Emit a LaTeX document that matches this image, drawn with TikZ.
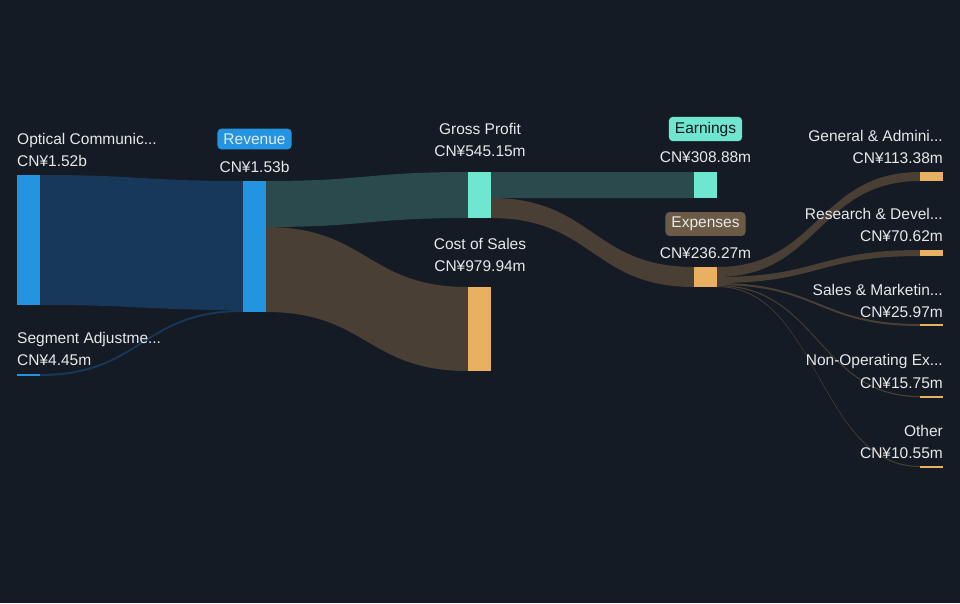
\documentclass[tikz,border=0pt]{standalone}
\usepackage{fontspec}
\setmainfont{Liberation Sans}
\begin{document}
\definecolor{bg}{HTML}{151B24}
\definecolor{blu}{HTML}{2394E0}
\definecolor{tea}{HTML}{6EE6D0}
\definecolor{ora}{HTML}{E8B060}
\definecolor{fblu}{HTML}{18385A}
\definecolor{ftea}{HTML}{2A4A4E}
\definecolor{fbro}{HTML}{4A3F35}
\definecolor{txt}{HTML}{E6E8EA}
\definecolor{bbro}{HTML}{6B5A45}
\newcommand\flow[7]{\fill[#1] (#2,#3) .. controls ({(#2+#5)/2},#3) and ({(#2+#5)/2},#6) .. (#5,#6) -- (#5,#7) .. controls ({(#2+#5)/2},#7) and ({(#2+#5)/2},#4) .. (#2,#4) -- cycle;}
\begin{tikzpicture}[x=1pt,y=-1pt,
  lab/.style={text=txt,font=\fontsize{15.5}{17}\selectfont,inner sep=0pt},
  tag/.style={text=txt,font=\fontsize{15.5}{17}\selectfont,rounded corners=4pt,inner xsep=6pt,inner ysep=5pt}]
\fill[bg] (0,0) rectangle (960,603);
\useasboundingbox (0,0) rectangle (960,603);
% flows
\flow{fblu}{40}{175}{305}{243}{181}{310}
\flow{fblu}{40}{374}{376}{243}{310}{312}
\flow{ftea}{266}{181}{227}{468}{172}{218}
\flow{fbro}{266}{227}{312}{468}{287}{371}
\flow{ftea}{491}{172}{198}{694}{172}{198}
\flow{fbro}{491}{198}{218}{694}{267}{287}
\flow{fbro}{717}{267}{277}{920}{172}{181}
\flow{fbro}{717}{277}{283}{920}{250}{256}
\flow{fbro}{717}{283}{285}{920}{324}{326}
\flow{fbro}{717}{285}{286.2}{920}{396}{397.2}
\flow{fbro}{717}{286.2}{287}{920}{466}{467}
% bars
\fill[blu] (17,175) rectangle (40,305) node[pos=.5] (opt) {};
\fill[blu] (17,374) rectangle (40,376) node[pos=.5] (seg) {};
\fill[blu] (243,181) rectangle (266,312) node[pos=.5] (rev) {};
\fill[tea] (468,172) rectangle (491,218) node[pos=.5] (gp) {};
\fill[ora] (468,287) rectangle (491,371) node[pos=.5] (cos) {};
\fill[tea] (694,172) rectangle (717,198) node[pos=.5] (ear) {};
\fill[ora] (694,267) rectangle (717,287) node[pos=.5] (exp) {};
\fill[ora] (920,172) rectangle (943,181);
\fill[ora] (920,250) rectangle (943,256);
\fill[ora] (920,324) rectangle (943,326);
\fill[ora] (920,396) rectangle (943,398);
\fill[ora] (920,466) rectangle (943,468);
% labels
\node[lab,anchor=west] (l1) at (17,140) {Optical Communic...};
\node[lab,anchor=west] (v1) at (17,161) {CN¥1.52b};
\node[lab,anchor=west] (l2) at (17,339) {Segment Adjustme...};
\node[lab,anchor=west] (v2) at (17,360) {CN¥4.45m};
\node[tag,fill=blu] (l3) at (254.5,139) {Revenue};
\node[lab] (v3) at (254.5,167) {CN¥1.53b};
\node[lab] (l4) at (480,129) {Gross Profit};
\node[lab] (v4) at (480,151) {CN¥545.15m};
\node[lab] (l5) at (480,244) {Cost of Sales};
\node[lab] (v5) at (480,266) {CN¥979.94m};
\node[tag,fill=tea,text=bg!80!black] (l6) at (705.5,129) {Earnings};
\node[lab] (v6) at (705.5,157) {CN¥308.88m};
\node[tag,fill=bbro] (l7) at (705.5,224) {Expenses};
\node[lab] (v7) at (705.5,253) {CN¥236.27m};
\node[lab,anchor=east] (l8) at (943,136) {General \& Admini...};
\node[lab,anchor=east] (v8) at (943,158) {CN¥113.38m};
\node[lab,anchor=east] (l9) at (943,214) {Research \& Devel...};
\node[lab,anchor=east] (v9) at (943,236) {CN¥70.62m};
\node[lab,anchor=east] (l10) at (943,290) {Sales \& Marketin...};
\node[lab,anchor=east] (v10) at (943,312) {CN¥25.97m};
\node[lab,anchor=east] (l11) at (943,361) {Non-Operating Ex...};
\node[lab,anchor=east] (v11) at (943,383) {CN¥15.75m};
\node[lab,anchor=east] (l12) at (943,431) {Other};
\node[lab,anchor=east] (v12) at (943,453) {CN¥10.55m};
\end{tikzpicture}
\end{document}
